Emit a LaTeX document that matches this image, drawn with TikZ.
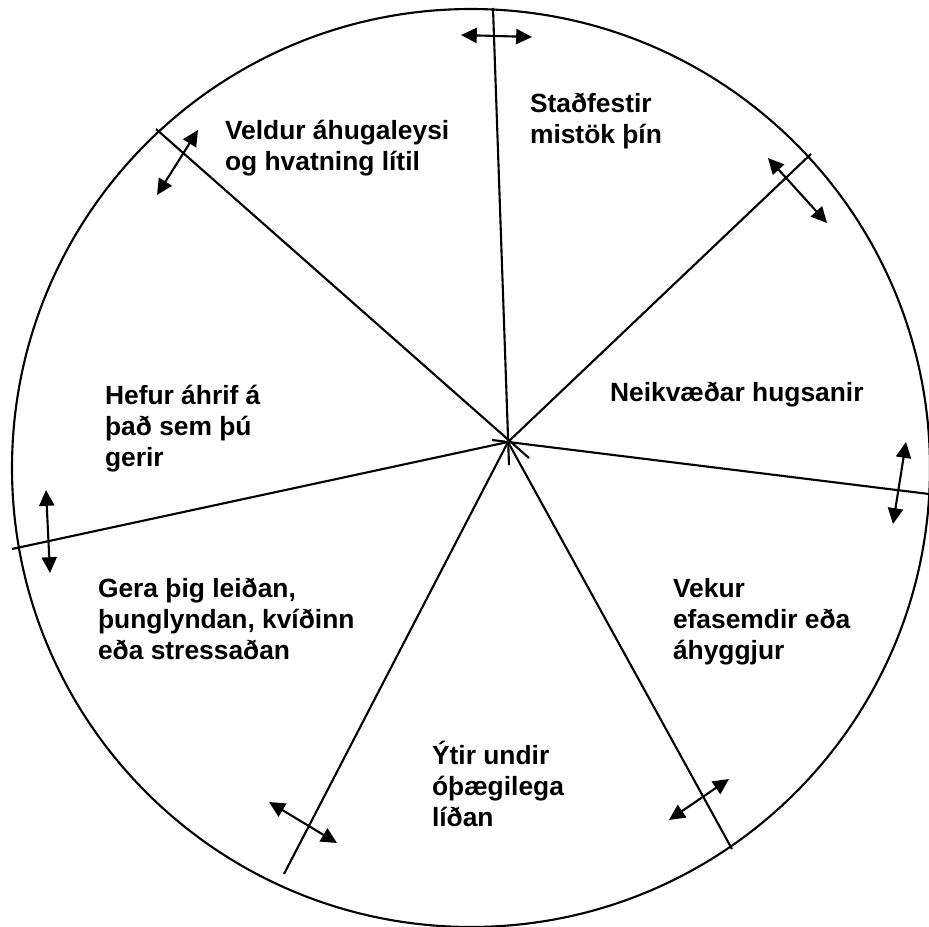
\documentclass[tikz,border=0pt]{standalone}
\usepackage{fontspec}
\setmainfont{Liberation Sans}
\usetikzlibrary{arrows.meta}

\begin{document}
\begin{tikzpicture}[x=0.01cm, y=-0.01cm, line width=0.6pt,
    >={Triangle[length=4.5pt,width=4.3pt]},
    phrase/.style={anchor=base west, inner sep=0pt, align=left,
      font=\bfseries\fontsize{7.5}{8.7}\selectfont}]
                    \useasboundingbox (0,0) rectangle (929,927);
                    \coordinate (c) at (508,442);
                    \draw (471,468) circle [radius=459];
                    \coordinate (s1) at (493,8);
                    \coordinate (s2) at (811,154);
                    \coordinate (s3) at (929,494);
                    \coordinate (s4) at (732,849);
                    \coordinate (s5) at (284,874);
                    \coordinate (s6) at (12,549);
                    \coordinate (s7) at (156,129);
                    \draw (s1) -- (509,465);
                    \draw (s2) -- (c);
                    \draw (s3) -- (492,440);
                    \draw (s4) -- (c);
                    \draw (s5) -- (c);
                    \draw (s6) -- (c);
                    \draw (s7) -- (529,458);
                    \node[phrase] (confirm) at (529,143) {Staðfestir\\mistök þín};
                    \node[phrase] (motiv) at (224,170) {Veldur áhugaleysi\\og hvatning lítil};
                    \node[phrase] (neg) at (609,401) {Neikvæðar hugsanir};
                    \node[phrase] (act) at (104,466) {Hefur áhrif á\\það sem þú\\gerir};
                    \node[phrase] (mood) at (97,659) {Gera þig leiðan,\\þunglyndan, kvíðinn\\eða stressaðan};
                    \node[phrase] (doubt) at (672,659) {Vekur\\efasemdir eða\\áhyggjur};
                    \node[phrase] (feel) at (431,826) {Ýtir undir\\óþægilega\\líðan};
                    \coordinate (a1) at (461,35);  \coordinate (b1) at (532,37);
                    \coordinate (a2) at (768,158); \coordinate (b2) at (827,223);
                    \coordinate (a3) at (906,442); \coordinate (b3) at (893,524);
                    \coordinate (a4) at (729,779); \coordinate (b4) at (669,820);
                    \coordinate (a5) at (269,802); \coordinate (b5) at (337,843);
                    \coordinate (a6) at (46,490);  \coordinate (b6) at (50,573);
                    \coordinate (a7) at (198,130); \coordinate (b7) at (157,195);
                    \foreach \i in {1,...,7}
                      \draw[<->] (a\i) -- (b\i);
                \end{tikzpicture}
\end{document}
